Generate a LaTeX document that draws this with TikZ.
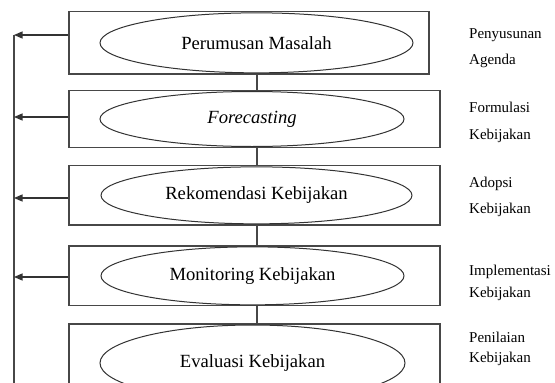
\documentclass[tikz,border=0pt]{standalone}
\usepackage{fontspec}
\setmainfont{Liberation Serif}
\usetikzlibrary{arrows.meta,shapes.geometric}
\begin{document}
\begin{tikzpicture}[x=1pt,y=-1pt,
  stagebox/.style={draw=black!72,line width=1.2pt,rectangle,inner sep=0pt},
  oval/.style={draw=black!80,line width=1pt,ellipse,inner sep=0pt,font=\fontsize{18.6}{20}\selectfont},
  conn/.style={draw=black!72,line width=1.2pt},
  fb/.style={draw=black!80,line width=1.2pt,-{Triangle[length=8.5pt,width=7pt]}},
  lbl/.style={anchor=base west,inner sep=0pt,font=\fontsize{15}{17}\selectfont}]
\useasboundingbox (0,0) rectangle (555,383);
\clip (0,0) rectangle (555,383);
% boxes
\node[stagebox,minimum width=360pt,minimum height=62.3pt] (b1) at (249,42.85) {};
\node[stagebox,minimum width=371pt,minimum height=56.6pt] (b2) at (254.5,119) {};
\node[stagebox,minimum width=371pt,minimum height=59.3pt] (b3) at (254.5,195.35) {};
\node[stagebox,minimum width=371pt,minimum height=59.7pt] (b4) at (254.5,275.85) {};
\node[stagebox,minimum width=371pt,minimum height=78pt] (b5) at (254.5,363) {};
% ellipses
\node[oval,minimum width=313pt,minimum height=60pt] (e1) at (256.5,42.85) {Perumusan Masalah};
\node[oval,minimum width=304pt,minimum height=55pt] (e2) at (252,119) {\itshape Forecasting};
\node[oval,minimum width=311pt,minimum height=57pt] (e3) at (256.5,195.35) {Rekomendasi Kebijakan};
\node[oval,minimum width=303pt,minimum height=58pt] (e4) at (252.5,275.85) {Monitoring Kebijakan};
\node[oval,minimum width=305pt,minimum height=76pt] (e5) at (252.5,363) {Evaluasi Kebijakan};
% vertical connectors
\coordinate (cx) at (257,0);
\draw[conn] (b1.south -| cx) -- (b2.north -| cx);
\draw[conn] (b2.south -| cx) -- (b3.north -| cx);
\draw[conn] (b3.south -| cx) -- (b4.north -| cx);
\draw[conn] (b4.south -| cx) -- (b5.north -| cx);
% feedback line
\coordinate (f1) at (14,35);
\coordinate (f2) at (14,117);
\coordinate (f3) at (14,198);
\coordinate (f4) at (14,277);
\coordinate (fend) at (14,390);
\draw[conn] (f1) -- (fend);
\draw[fb] (b1.west |- f1) -- (f1);
\draw[fb] (b2.west |- f2) -- (f2);
\draw[fb] (b3.west |- f3) -- (f3);
\draw[fb] (b4.west |- f4) -- (f4);
% labels
\node[lbl] (l1a) at (469,38) {Penyusunan};
\node[lbl] (l1b) at (469,64) {Agenda};
\node[lbl] (l2a) at (469,112) {Formulasi};
\node[lbl] (l2b) at (469,139) {Kebijakan};
\node[lbl] (l3a) at (469,187) {Adopsi};
\node[lbl] (l3b) at (469,213) {Kebijakan};
\node[lbl] (l4a) at (469,275) {Implementasi};
\node[lbl] (l4b) at (469,297) {Kebijakan};
\node[lbl] (l5a) at (469,342) {Penilaian};
\node[lbl] (l5b) at (469,362) {Kebijakan};
\end{tikzpicture}
\end{document}
